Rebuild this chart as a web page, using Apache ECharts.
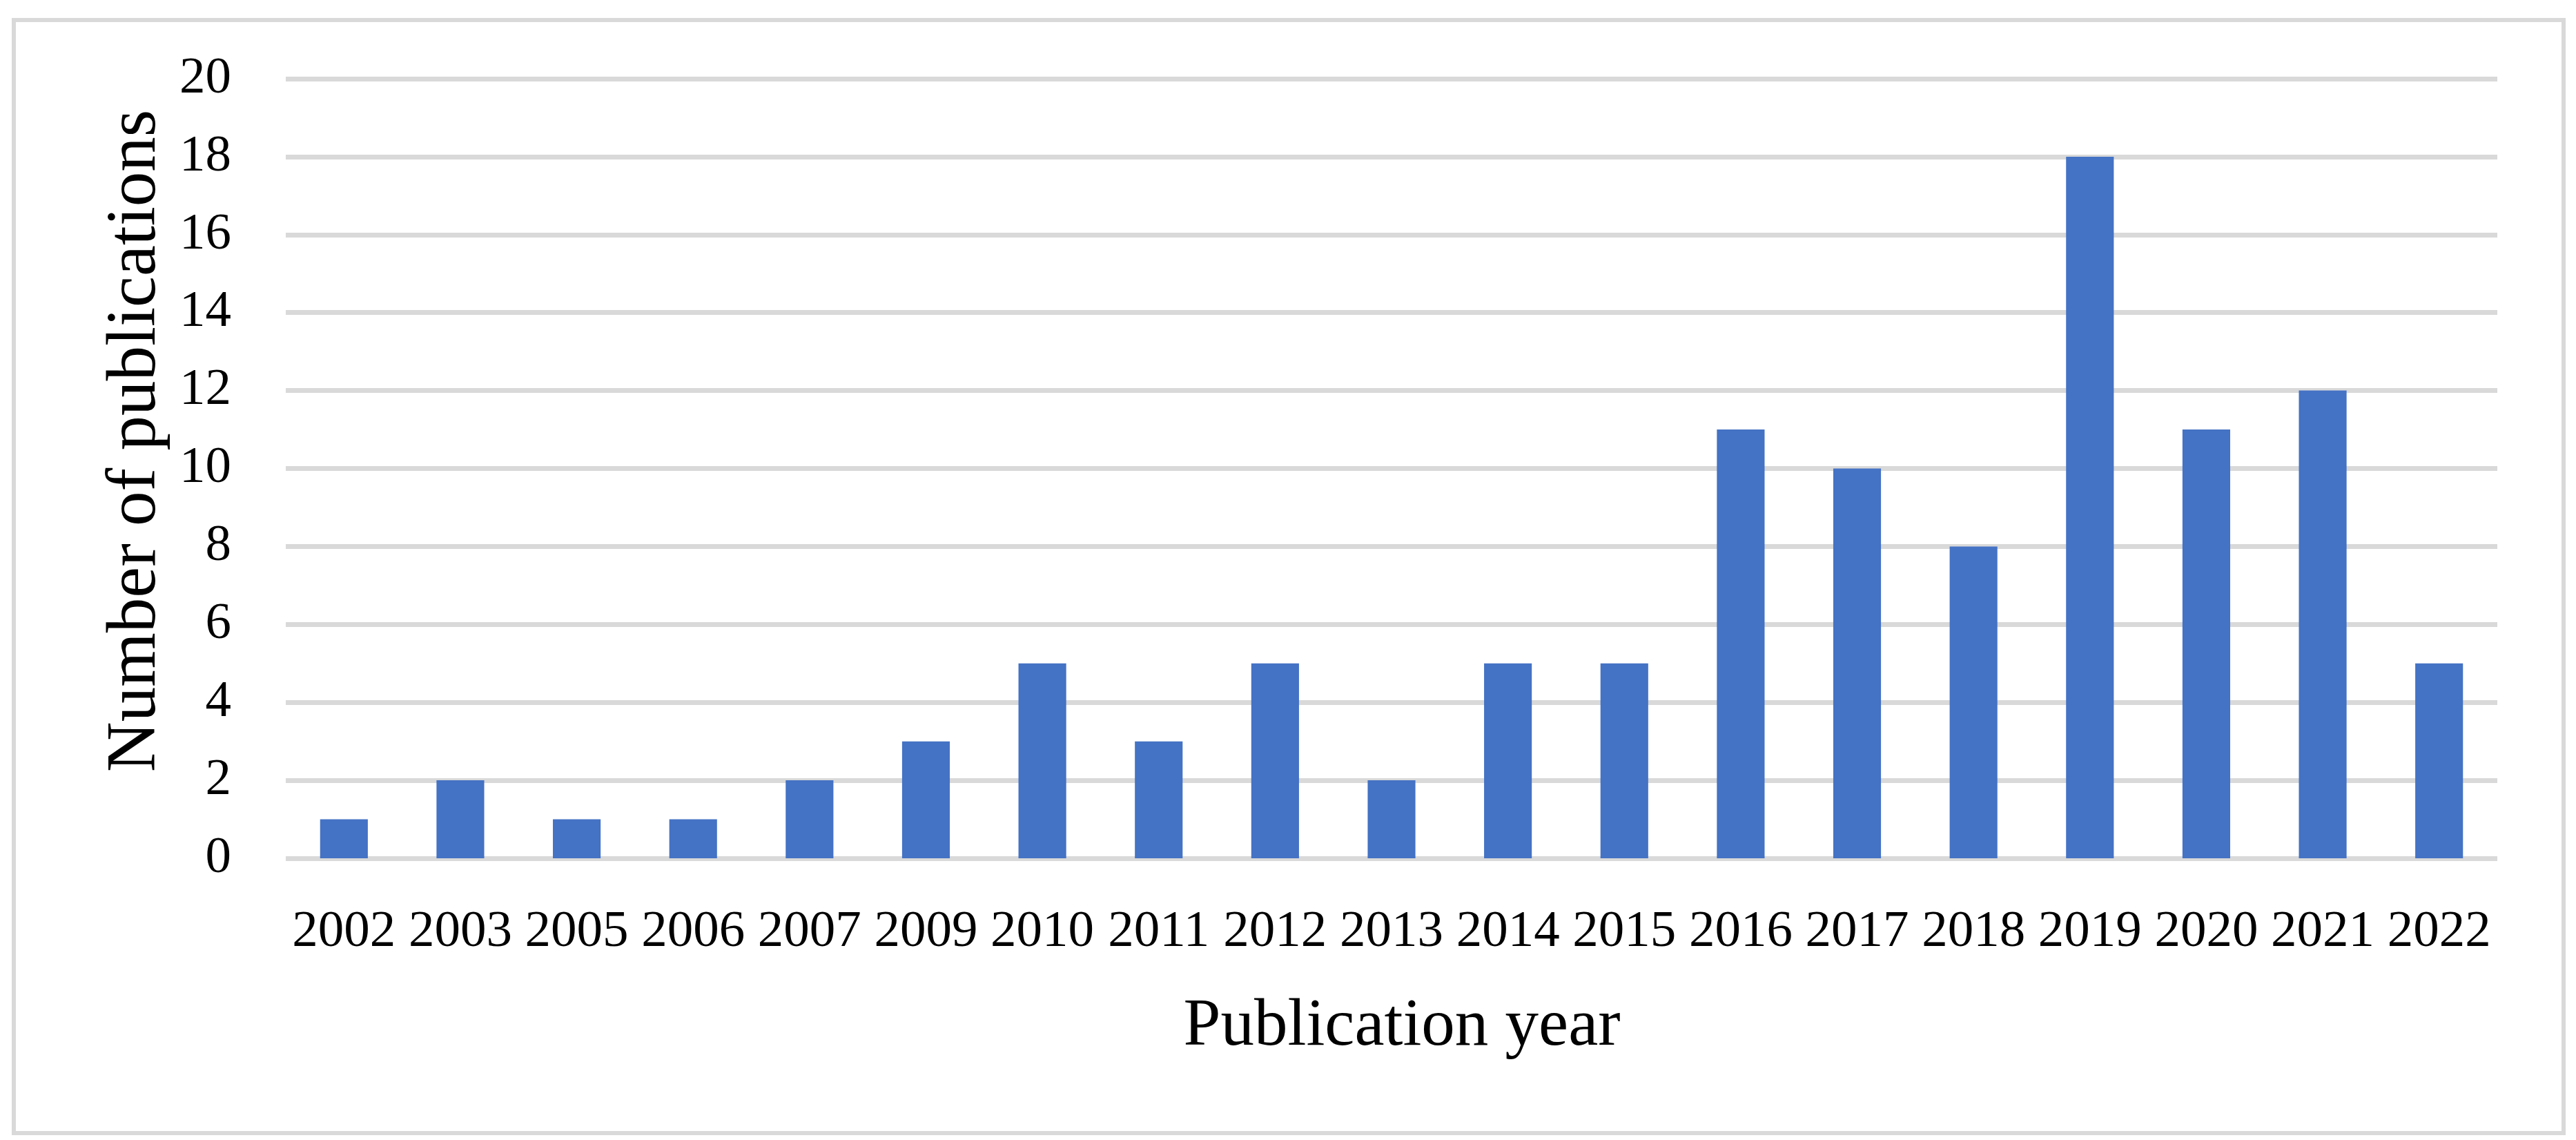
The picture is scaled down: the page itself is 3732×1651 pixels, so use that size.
<!DOCTYPE html>
<html>
<head>
<meta charset="utf-8">
<title>Publications per year</title>
<script src="https://cdn.jsdelivr.net/npm/echarts@6/dist/echarts.min.js"></script>
<style>
  html, body { margin: 0; padding: 0; background: #fff; }
  #chart { width: 3732px; height: 1651px; }
</style>
</head>
<body>
<div id="chart"></div>
<script>
// categories (publication years) and counts
var years = ['2002', '2003', '2005', '2006', '2007', '2009', '2010', '2011', '2012', '2013',
  '2014', '2015', '2016', '2017', '2018', '2019', '2020', '2021', '2022']
var counts = [1, 2, 1, 1, 2, 3, 5, 3, 5, 2, 5, 5, 11, 10, 8, 18, 11, 12, 5]
var yTicks = [0, 2, 4, 6, 8, 10, 12, 14, 16, 18, 20]

var fontFamily = '"Liberation Serif", "Times New Roman", serif'
var gridColor = '#d9d9d9'

var myChart = echarts.init(document.getElementById('chart'), null, { renderer: 'canvas' })
var option = {
  backgroundColor: '#fff',
  animation: false,
  textStyle: { fontFamily: fontFamily, color: '#000' },
  graphic: [
    {
      // outer frame
      type: 'rect',
      left: 17,
      top: 26,
      shape: { width: 3694, height: 1612 },
      style: { fill: 'none', stroke: gridColor, lineWidth: 6 }
    }
  ],
  grid: {
    left: 414,
    right: 114,
    top: 114,
    bottom: 408
  },
  xAxis: {
    type: 'category',
    data: years,
    name: 'Publication year',
    nameLocation: 'middle',
    nameGap: 196,
    nameTextStyle: { fontFamily: fontFamily, fontSize: 97, color: '#000', padding: [0, 0, 0, 30] },
    axisLine: { show: false },
    axisTick: { show: false },
    axisLabel: {
      interval: 0,
      margin: 70,
      fontFamily: fontFamily,
      fontSize: 75,
      color: '#000'
    }
  },
  yAxis: {
    type: 'value',
    min: yTicks[0],
    max: yTicks[yTicks.length - 1],
    interval: yTicks[1] - yTicks[0],
    name: 'Number of publications',
    nameLocation: 'middle',
    nameGap: 166,
    nameTextStyle: { fontFamily: fontFamily, fontSize: 101, color: '#000', padding: [0, 0, 0, 80] },
    axisLine: { show: false },
    axisTick: { show: false },
    axisLabel: {
      margin: 79,
      fontFamily: fontFamily,
      fontSize: 75,
      color: '#000'
    },
    splitLine: {
      show: true,
      lineStyle: { color: gridColor, width: 7 }
    }
  },
  series: [
    {
      type: 'bar',
      data: counts,
      barWidth: '41%',
      itemStyle: { color: '#4472c4' },
      z: 1
    }
  ]
}
myChart.setOption(option)
</script>
</body>
</html>
